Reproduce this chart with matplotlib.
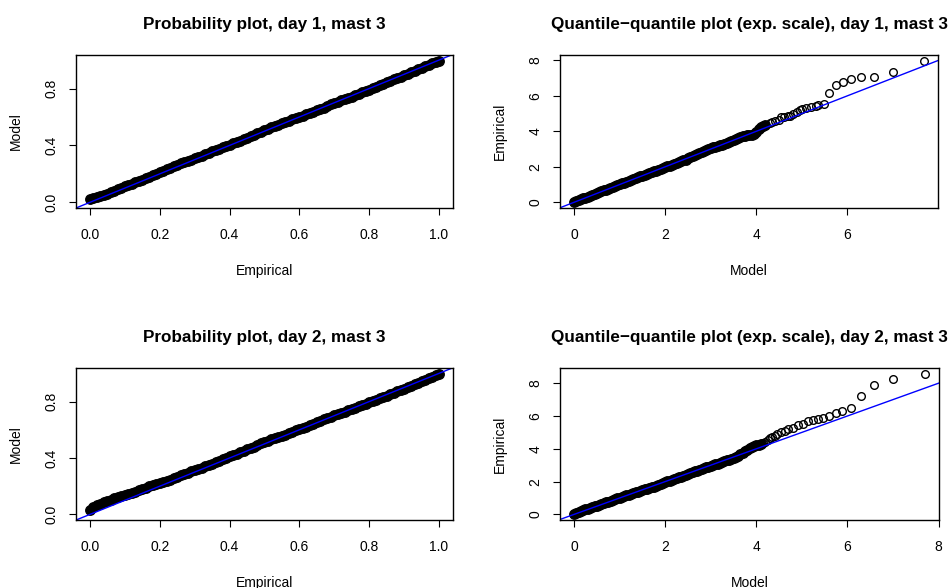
import matplotlib
matplotlib.use("Agg")
import matplotlib.pyplot as plt
import numpy as np
from matplotlib.ticker import MultipleLocator

plt.rcParams['font.family'] = ['Liberation Sans', 'DejaVu Sans']

# probability plot, day 1 (empirical prob -> model prob)
pp_emp = [0.00, 0.01, 0.02, 0.03, 0.04, 0.05, 0.06, 0.07, 0.08, 0.09,
          0.10, 0.11, 0.12, 0.13, 0.14, 0.15, 0.16, 0.17, 0.18, 0.19,
          0.20, 0.21, 0.22, 0.23, 0.24, 0.25, 0.26, 0.27, 0.28, 0.29,
          0.30, 0.31, 0.32, 0.33, 0.34, 0.35, 0.36, 0.37, 0.38, 0.39,
          0.40, 0.41, 0.42, 0.43, 0.44, 0.45, 0.46, 0.47, 0.48, 0.49,
          0.50, 0.51, 0.52, 0.53, 0.54, 0.55, 0.56, 0.57, 0.58, 0.59,
          0.60, 0.61, 0.62, 0.63, 0.64, 0.65, 0.66, 0.67, 0.68, 0.69,
          0.70, 0.71, 0.72, 0.73, 0.74, 0.75, 0.76, 0.77, 0.78, 0.79,
          0.80, 0.81, 0.82, 0.83, 0.84, 0.85, 0.86, 0.87, 0.88, 0.89,
          0.90, 0.91, 0.92, 0.93, 0.94, 0.95, 0.96, 0.97, 0.98, 0.99,
          1.00]
pp_mod_day1 = [0.025, 0.030, 0.036, 0.044, 0.052, 0.061, 0.071, 0.080, 0.091, 0.102,
               0.113, 0.121, 0.130, 0.140, 0.150, 0.159, 0.169, 0.179, 0.189, 0.199,
               0.211, 0.222, 0.232, 0.242, 0.252, 0.262, 0.273, 0.282, 0.291, 0.300,
               0.309, 0.318, 0.328, 0.338, 0.348, 0.358, 0.367, 0.377, 0.387, 0.397,
               0.406, 0.415, 0.424, 0.434, 0.444, 0.454, 0.464, 0.474, 0.485, 0.496,
               0.507, 0.517, 0.527, 0.537, 0.546, 0.556, 0.565, 0.574, 0.583, 0.592,
               0.601, 0.610, 0.619, 0.628, 0.637, 0.646, 0.656, 0.666, 0.677, 0.688,
               0.698, 0.707, 0.716, 0.725, 0.734, 0.743, 0.753, 0.763, 0.773, 0.783,
               0.793, 0.803, 0.813, 0.823, 0.833, 0.843, 0.853, 0.864, 0.874, 0.884,
               0.894, 0.904, 0.914, 0.924, 0.934, 0.945, 0.955, 0.966, 0.976, 0.987,
               0.996]
# probability plot, day 2
pp_mod_day2 = [0.030, 0.052, 0.065, 0.075, 0.085, 0.094, 0.103, 0.115, 0.126, 0.134,
               0.140, 0.146, 0.152, 0.160, 0.170, 0.181, 0.190, 0.199, 0.207, 0.215,
               0.223, 0.231, 0.239, 0.247, 0.256, 0.266, 0.277, 0.287, 0.296, 0.305,
               0.314, 0.323, 0.332, 0.341, 0.350, 0.359, 0.369, 0.379, 0.390, 0.401,
               0.412, 0.422, 0.431, 0.441, 0.451, 0.461, 0.471, 0.481, 0.492, 0.503,
               0.513, 0.522, 0.532, 0.541, 0.549, 0.557, 0.566, 0.576, 0.586, 0.596,
               0.605, 0.614, 0.623, 0.633, 0.643, 0.653, 0.663, 0.673, 0.683, 0.693,
               0.702, 0.711, 0.720, 0.729, 0.738, 0.747, 0.756, 0.766, 0.776, 0.785,
               0.794, 0.803, 0.812, 0.822, 0.832, 0.842, 0.852, 0.862, 0.872, 0.882,
               0.892, 0.902, 0.912, 0.922, 0.932, 0.943, 0.954, 0.965, 0.976, 0.987,
               0.998]

# QQ plot (exp. scale), day 1: model quantile -> empirical quantile
qq_mod_day1 = [0.00, 0.05, 0.10, 0.15, 0.20, 0.25, 0.30, 0.35, 0.40, 0.45,
               0.50, 0.55, 0.60, 0.65, 0.70, 0.75, 0.80, 0.85, 0.90, 0.95,
               1.00, 1.05, 1.10, 1.15, 1.20, 1.25, 1.30, 1.35, 1.40, 1.45,
               1.50, 1.55, 1.60, 1.65, 1.70, 1.75, 1.80, 1.85, 1.90, 1.95,
               2.00, 2.05, 2.10, 2.15, 2.20, 2.25, 2.30, 2.35, 2.40, 2.45,
               2.50, 2.55, 2.60, 2.65, 2.70, 2.75, 2.80, 2.85, 2.90, 2.95,
               3.00, 3.05, 3.10, 3.15, 3.20, 3.25, 3.30, 3.35, 3.40, 3.45,
               3.50, 3.55, 3.60, 3.65, 3.70, 3.75, 3.80, 3.85, 3.90, 3.95,
               4.00, 4.05, 4.10, 4.15, 4.20, 4.30, 4.35, 4.40, 4.50, 4.55,
               4.60, 4.70, 4.75, 4.80, 4.90, 4.95, 5.00, 5.10, 5.20, 5.30,
               5.36, 5.49, 5.60, 5.74, 5.90, 6.07, 6.30, 6.58, 7.00, 7.68]
qq_emp_day1 = [0.04, 0.08, 0.12, 0.17, 0.22, 0.27, 0.32, 0.37, 0.42, 0.47,
               0.52, 0.57, 0.62, 0.67, 0.72, 0.77, 0.82, 0.87, 0.92, 0.97,
               1.01, 1.06, 1.11, 1.16, 1.21, 1.26, 1.31, 1.36, 1.41, 1.46,
               1.51, 1.56, 1.61, 1.66, 1.70, 1.75, 1.79, 1.84, 1.88, 1.93,
               1.97, 2.02, 2.06, 2.11, 2.15, 2.20, 2.25, 2.30, 2.36, 2.41,
               2.47, 2.53, 2.59, 2.65, 2.71, 2.77, 2.83, 2.89, 2.95, 3.00,
               3.05, 3.09, 3.13, 3.17, 3.21, 3.25, 3.30, 3.35, 3.40, 3.45,
               3.50, 3.56, 3.62, 3.68, 3.73, 3.76, 3.78, 3.79, 3.80, 3.84,
               3.98, 4.12, 4.22, 4.30, 4.38, 4.48, 4.55, 4.60, 4.65, 4.78,
               4.82, 4.85, 4.88, 4.95, 5.10, 5.18, 5.25, 5.30, 5.38, 5.40,
               5.50, 5.55, 6.15, 6.63, 6.80, 6.97, 7.05, 7.07, 7.35, 7.98]

# QQ plot (exp. scale), day 2
qq_mod_day2 = [0.00, 0.05, 0.10, 0.15, 0.20, 0.25, 0.30, 0.35, 0.40, 0.45,
               0.50, 0.55, 0.60, 0.65, 0.70, 0.75, 0.80, 0.85, 0.90, 0.95,
               1.00, 1.05, 1.10, 1.15, 1.20, 1.25, 1.30, 1.35, 1.40, 1.45,
               1.50, 1.55, 1.60, 1.65, 1.70, 1.75, 1.80, 1.85, 1.90, 1.95,
               2.00, 2.05, 2.10, 2.15, 2.20, 2.25, 2.30, 2.35, 2.40, 2.45,
               2.50, 2.55, 2.60, 2.65, 2.70, 2.75, 2.80, 2.85, 2.90, 2.95,
               3.00, 3.05, 3.10, 3.15, 3.20, 3.25, 3.30, 3.35, 3.40, 3.45,
               3.50, 3.55, 3.60, 3.65, 3.70, 3.75, 3.80, 3.85, 3.90, 3.95,
               4.00, 4.05, 4.10, 4.15, 4.20, 4.25, 4.30, 4.35, 4.40, 4.45,
               4.55, 4.62, 4.70, 4.81, 4.92, 5.03, 5.14, 5.25, 5.36, 5.47,
               5.60, 5.75, 5.89, 6.08, 6.30, 6.59, 6.99, 7.70]
qq_emp_day2 = [0.05, 0.11, 0.16, 0.21, 0.26, 0.31, 0.35, 0.40, 0.45, 0.50,
               0.54, 0.59, 0.64, 0.69, 0.73, 0.78, 0.83, 0.88, 0.92, 0.97,
               1.02, 1.06, 1.11, 1.16, 1.20, 1.25, 1.29, 1.34, 1.38, 1.43,
               1.47, 1.52, 1.56, 1.61, 1.65, 1.70, 1.75, 1.80, 1.85, 1.90,
               1.96, 2.01, 2.06, 2.10, 2.15, 2.20, 2.25, 2.30, 2.36, 2.42,
               2.47, 2.52, 2.57, 2.62, 2.66, 2.71, 2.76, 2.81, 2.86, 2.91,
               2.96, 3.01, 3.05, 3.10, 3.15, 3.19, 3.24, 3.29, 3.34, 3.39,
               3.45, 3.51, 3.58, 3.66, 3.75, 3.85, 3.95, 4.03, 4.10, 4.16,
               4.21, 4.25, 4.30, 4.35, 4.40, 4.55, 4.66, 4.72, 4.80, 4.90,
               5.00, 5.06, 5.18, 5.29, 5.43, 5.53, 5.67, 5.75, 5.79, 5.87,
               5.99, 6.17, 6.31, 6.49, 7.20, 7.86, 8.28, 8.58]


def r_panel(ax, x, y, title, xlabel, ylabel, xstep, ystep, dense_upto):
    x = np.asarray(x)
    y = np.asarray(y)
    # hundreds of overlapping open circles in R look like a solid band
    dense = x <= dense_upto
    ax.plot(x[dense], y[dense], linestyle='none', marker='o', markersize=6.8,
            markerfacecolor='black', markeredgecolor='black', markeredgewidth=1.0)
    ax.plot(x[~dense], y[~dense], linestyle='none', marker='o', markersize=5.5,
            markerfacecolor='none', markeredgecolor='black', markeredgewidth=1.0)
    ax.axline((0, 0), slope=1, color='blue', linewidth=1.0)
    # R default: 4% padding on the data range
    ax.margins(x=0.04, y=0.04)
    ax.xaxis.set_major_locator(MultipleLocator(xstep))
    ax.yaxis.set_major_locator(MultipleLocator(ystep))
    ax.tick_params(direction='out', length=5, width=0.8, labelsize=10)
    ax.tick_params(axis='x', pad=9.5)
    ax.tick_params(axis='y', pad=7.5)
    plt.setp(ax.get_yticklabels(), rotation=90, va='center')
    for s in ax.spines.values():
        s.set_linewidth(1.0)
    ax.set_title(title, fontsize=12.3, fontweight='bold', pad=19)
    ax.set_xlabel(xlabel, fontsize=10, labelpad=15.5)
    ax.set_ylabel(ylabel, fontsize=10, labelpad=16)


fig = plt.figure(figsize=(9.5, 5.88), dpi=100)
ax1 = fig.add_axes([0.080, 0.6463, 0.3968, 0.2602])
ax2 = fig.add_axes([0.5895, 0.6463, 0.3979, 0.2602])
ax3 = fig.add_axes([0.080, 0.1156, 0.3968, 0.2585])
ax4 = fig.add_axes([0.5895, 0.1156, 0.3989, 0.2585])

r_panel(ax1, pp_emp, pp_mod_day1, 'Probability plot, day 1, mast 3',
        'Empirical', 'Model', 0.2, 0.4, 1.0)
r_panel(ax2, qq_mod_day1, qq_emp_day1,
        'Quantile\u2212quantile plot (exp. scale), day 1, mast 3',
        'Model', 'Empirical', 2, 2, 4.2)
r_panel(ax3, pp_emp, pp_mod_day2, 'Probability plot, day 2, mast 3',
        'Empirical', 'Model', 0.2, 0.4, 1.0)
r_panel(ax4, qq_mod_day2, qq_emp_day2,
        'Quantile\u2212quantile plot (exp. scale), day 2, mast 3',
        'Model', 'Empirical', 2, 2, 4.1)

fig.savefig('out.png', dpi=100)
